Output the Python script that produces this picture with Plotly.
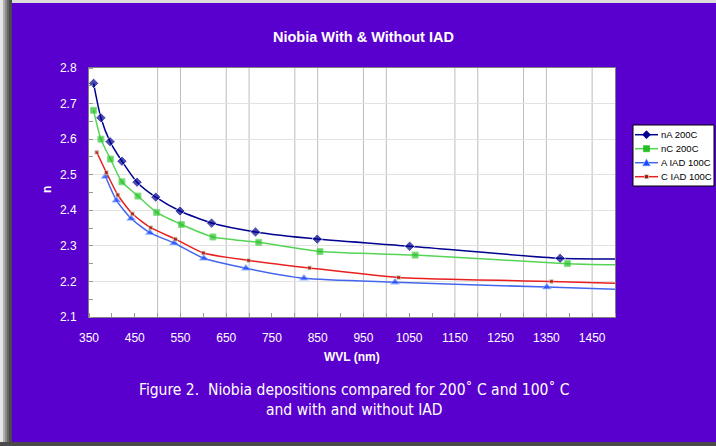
import plotly.graph_objects as go

# Refractive index n versus wavelength (nm) for niobia films
na_wvl = [360, 376, 396, 422, 455, 496, 549, 618, 714, 849, 1051, 1380, 1500]
na_n = [2.757, 2.660, 2.593, 2.538, 2.479, 2.437, 2.398, 2.364, 2.339, 2.319, 2.299, 2.265, 2.263]

nc_wvl = [360, 376, 397, 422, 457, 498, 552, 621, 721, 855, 1063, 1396, 1500]
nc_n = [2.681, 2.600, 2.544, 2.480, 2.440, 2.394, 2.360, 2.325, 2.310, 2.284, 2.274, 2.250, 2.247]

a_iad_wvl = [386, 410, 442, 483, 536, 601, 693, 820, 1019, 1351, 1500]
a_iad_n = [2.495, 2.428, 2.377, 2.337, 2.308, 2.265, 2.237, 2.209, 2.198, 2.184, 2.178]

c_iad_wvl = [367, 388, 413, 445, 485, 539, 600, 699, 832, 1027, 1361, 1500]
c_iad_n = [2.563, 2.506, 2.443, 2.390, 2.351, 2.319, 2.280, 2.259, 2.238, 2.211, 2.200, 2.195]

series_names = ["nA 200C", "nC 200C", "A IAD 100C", "C IAD 100C"]

x_tick_vals = list(range(350, 1451, 100))
y_tick_vals = [2.1, 2.2, 2.3, 2.4, 2.5, 2.6, 2.7, 2.8]
v_grid = [500, 550, 650, 700, 800, 850, 950, 1000, 1150, 1200, 1300, 1350, 1450]

W, H = 716, 446
L, R, T, B = 89, 615, 68, 317
PURPLE = "#5a00ce"


def px(xp):
    return (xp - L) / (R - L)


def py(yp):
    return (B - yp) / (B - T)


def sizes(n, s):
    # last point only continues the curve to the axis edge
    return [s] * (n - 1) + [0]


styles = [
    dict(line="#000090", marker="#000090", symbol="diamond", size=8, edge=None),
    dict(line="#55d455", marker="#22c022", symbol="square", size=6, edge=None),
    dict(line="#4466ee", marker="#2244ff", symbol="triangle-up", size=8, edge="#99ccff"),
    dict(line="#e82020", marker="#aa1111", symbol="square", size=4, edge="#bff0c0"),
]
data = [(na_wvl, na_n), (nc_wvl, nc_n), (a_iad_wvl, a_iad_n), (c_iad_wvl, c_iad_n)]

fig = go.Figure()
for name, (xs, ys), st in zip(series_names, data, styles):
    mk = dict(symbol=st["symbol"], size=sizes(len(xs), st["size"]), color=st["marker"])
    if st["edge"]:
        mk["line"] = dict(color=st["edge"], width=0.7)
    fig.add_trace(go.Scatter(
        x=xs, y=ys, name=name, mode="lines+markers", showlegend=False,
        line=dict(color=st["line"], width=1.5, shape="spline", smoothing=0.6),
        marker=mk))

shapes = []
# vertical gridlines
for g in v_grid:
    shapes.append(dict(type="line", xref="x", yref="paper", x0=g, x1=g, y0=0, y1=1,
                       line=dict(color="#bdbdbd", width=1), layer="below"))
# top light edge
shapes.append(dict(type="rect", xref="paper", yref="paper", x0=px(0), x1=px(W),
                   y0=py(3), y1=py(0), fillcolor="#dcdcdc", line=dict(width=0), layer="below"))
# left shadow
for (a, b, c) in [(0, 3, "#e6e6e6"), (3, 5, "#b0b0b0"), (5, 7, "#8a8a8a"),
                  (7, 9, "#666666"), (9, 12, "#4a4a4a")]:
    shapes.append(dict(type="rect", xref="paper", yref="paper", x0=px(a), x1=px(b),
                       y0=py(H), y1=py(0), fillcolor=c, line=dict(width=0), layer="below"))
# bottom shadow
shapes.append(dict(type="rect", xref="paper", yref="paper", x0=px(0), x1=px(W),
                   y0=py(H), y1=py(442), fillcolor="#4a4a4a", line=dict(width=0), layer="below"))

annotations = []

# legend box, drawn by hand so it fits the narrow right margin
LX0, LX1, LY0, LY1 = 633, 714, 125, 186
shapes.append(dict(type="rect", xref="paper", yref="paper", x0=px(LX0), x1=px(LX1),
                   y0=py(LY1), y1=py(LY0), fillcolor="white",
                   line=dict(color="black", width=1)))


def marker_path(symbol, cx, cy, r):
    if symbol == "diamond":
        pts = [(cx, cy - r), (cx + r, cy), (cx, cy + r), (cx - r, cy)]
    elif symbol == "triangle-up":
        pts = [(cx, cy - r), (cx + r, cy + r * 0.8), (cx - r, cy + r * 0.8)]
    else:
        pts = [(cx - r, cy - r), (cx + r, cy - r), (cx + r, cy + r), (cx - r, cy + r)]
    return "M " + " L ".join(f"{px(a):.5f},{py(b):.5f}" for a, b in pts) + " Z"


for i, (name, st) in enumerate(zip(series_names, styles)):
    yy = 134.7 + i * 14.0
    shapes.append(dict(type="line", xref="paper", yref="paper", x0=px(635), x1=px(658),
                       y0=py(yy), y1=py(yy), line=dict(color=st["line"], width=1.5)))
    r = st["size"] / 2.0
    shapes.append(dict(type="path", xref="paper", yref="paper",
                       path=marker_path(st["symbol"], 646.5, yy, r),
                       fillcolor=st["marker"],
                       line=dict(color=st["edge"] or st["marker"], width=0.7)))
    annotations.append(dict(text=name, xref="paper", yref="paper", x=px(659), y=py(yy),
                            xanchor="left", yanchor="middle", showarrow=False,
                            font=dict(family="Liberation Sans, Arial", size=9.5,
                                      color="black")))

white_bold = dict(family="Liberation Sans, Arial", size=12, color="white")

annotations += [
    dict(text="<b>Niobia With &amp; Without IAD</b>", xref="paper", yref="paper",
         x=px(363), y=py(37), xanchor="center", yanchor="middle", showarrow=False,
         font=dict(family="Liberation Sans, Arial", size=14.5, color="white")),
    dict(text="<b>WVL (nm)</b>", xref="paper", yref="paper", x=px(352), y=py(357),
         xanchor="center", yanchor="middle", showarrow=False, font=white_bold),
    dict(text="<b>n</b>", xref="paper", yref="paper", x=px(47), y=py(190),
         xanchor="center", yanchor="middle", showarrow=False, textangle=-90,
         font=white_bold),
    dict(text="Figure 2.  Niobia depositions compared for 200˚ C and 100˚ C<br>"
              "and with and without IAD",
         xref="paper", yref="paper", x=px(354), y=py(400), xanchor="center",
         yanchor="middle", showarrow=False, align="center",
         font=dict(family="DejaVu Sans Condensed, DejaVu Sans", size=15.5, color="white")),
]

fig.update_layout(
    width=W, height=H,
    margin=dict(l=L, r=W - R, t=T, b=H - B, pad=0, autoexpand=False),
    paper_bgcolor=PURPLE, plot_bgcolor="white",
    showlegend=False,
    shapes=shapes, annotations=annotations,
    xaxis=dict(range=[350, 1500], tickvals=x_tick_vals, showgrid=False, zeroline=False,
               ticks="", showline=True, linecolor="#808080", mirror=True,
               tickfont=white_bold, tickprefix="<b>", ticksuffix="</b>",
               ticklabelstandoff=10,
               minor=dict(dtick=50, tick0=350, ticks="inside", ticklen=4, tickcolor="#999999",
                          showgrid=False)),
    yaxis=dict(range=[2.1, 2.8], tickvals=y_tick_vals, tickformat=".1f",
               showgrid=True, gridcolor="#e2e2e2", zeroline=False,
               ticks="", showline=True, linecolor="#808080", mirror=True,
               tickfont=white_bold, tickprefix="<b>", ticksuffix="</b>",
               ticklabelstandoff=9,
               minor=dict(dtick=0.05, ticks="inside", ticklen=4, tickcolor="#999999",
                          showgrid=False)),
)

fig.write_html("out.html")
